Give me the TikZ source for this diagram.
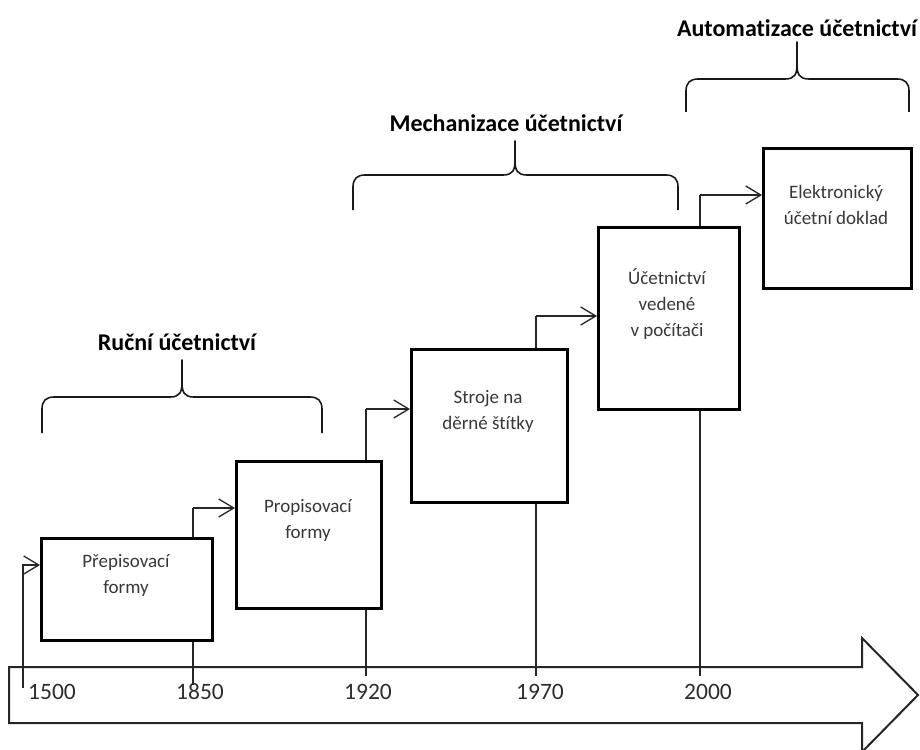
\documentclass[tikz,border=0pt]{standalone}
\usepackage{fontspec}
\setmainfont[RawFeature={-liga;-clig;-calt;-dlig}]{Carlito}
\usetikzlibrary{arrows.meta}
\newcommand\tlbrace[6]{% L R P H B T
  \draw[bracestyle] (#1,#5) -- (#1,#4+12) .. controls (#1,#4+4) and (#1+4,#4) .. (#1+12,#4)
    -- (#3-12,#4) .. controls (#3-2,#4) and (#3,#4-5) .. (#3,#4-15) -- (#3,#6)
    -- (#3,#4-15) .. controls (#3,#4-5) and (#3+2,#4) .. (#3+12,#4)
    -- (#2-12,#4) .. controls (#2-4,#4) and (#2,#4+4) .. (#2,#4+12) -- (#2,#5);}
\begin{document}
\begin{tikzpicture}[x=1pt,y=-1pt,
  box/.style={draw=black, line width=2.6pt, fill=white, inner sep=0pt, anchor=north west},
  boxtext/.style={align=center, text=black!78, font=\fontsize{19}{26}\selectfont, inner sep=0pt},
  year/.style={text=black!82, font=\fontsize{23.5}{28}\selectfont, inner sep=0pt},
  title/.style={text=black, font=\fontsize{24}{28}\selectfont\bfseries, inner sep=0pt},
  conn/.style={draw=black!85, line width=1.3pt, -{Straight Barb[length=15pt,width=18pt,line width=1.3pt]}},
  tick/.style={draw=black!85, line width=1.3pt},
  bracestyle/.style={draw=black!90, line width=1.6pt, line join=round},
  timeline/.style={draw=black!85, line width=2pt, fill=white, line join=miter}]
\useasboundingbox (0,0) rectangle (920,749);

% timeline arrow
\draw[timeline] (9,667) -- (862,667) -- (862,638) -- (918,695) -- (862,752)
  -- (862,723) -- (9,723) -- cycle;

% year labels
\node[year] (y1500) at (52,692) {1500};
\node[year] (y1850) at (200,692) {1850};
\node[year] (y1920) at (368,692) {1920};
\node[year] (y1970) at (540,692) {1970};
\node[year] (y2000) at (708,692) {2000};

% start points and bends of connectors
\coordinate (s1) at (23,688);  \coordinate (k1) at (23,565);
\coordinate (s2) at (193,685); \coordinate (k2) at (193,508);
\coordinate (s3) at (366,676); \coordinate (k3) at (366,409);
\coordinate (s4) at (536,676); \coordinate (k4) at (536,316);
\coordinate (s5) at (700,676); \coordinate (k5) at (700,195);

% vertical parts of the connectors (boxes are drawn over them)
\draw[tick] (s2) -- (k2);
\draw[tick] (s3) -- (k3);
\draw[tick] (s4) -- (k4);
\draw[tick] (s5) -- (k5);

% boxes
\node[box, minimum width=171pt, minimum height=102pt] (b1) at (40,537) {};
\node[box, minimum width=145pt, minimum height=147pt] (b2) at (235,460) {};
\node[box, minimum width=156pt, minimum height=153pt] (b3) at (410,348) {};
\node[box, minimum width=141pt, minimum height=182pt] (b4) at (597,226) {};
\node[box, minimum width=148pt, minimum height=140pt] (b5) at (762,147) {};

% connectors with arrows
\draw[conn] (s1) -- (k1) -- (k1 -| b1.west);
\draw[conn] (k2) -- (k2 -| b2.west);
\draw[conn] (k3) -- (k3 -| b3.west);
\draw[conn] (k4) -- (k4 -| b4.west);
\draw[conn] (k5) -- (k5 -| b5.west);

% box texts
\node[boxtext] (t1) at (126,575) {Přepisovací\\formy};
\node[boxtext] (t2) at (308,520) {Propisovací\\formy};
\node[boxtext] (t3) at (488,411) {Stroje na\\děrné štítky};
\node[boxtext] (t4) at (667,304) {Účetnictví\\vedené\\v počítači};
\node[boxtext] (t5) at (836,205) {Elektronický\\účetní doklad};

% braces and titles
\tlbrace{42}{322}{182}{397}{433}{360}
\tlbrace{353}{678}{515}{175}{210}{141}
\tlbrace{686}{909}{797}{79}{112}{42}
\node[title] (h1) at (177,342) {Ruční účetnictví};
\node[title] (h2) at (506,123) {Mechanizace účetnictví};
\node[title] (h3) at (797,28) {Automat\kern0pt izace účetnictví};
\end{tikzpicture}
\end{document}
